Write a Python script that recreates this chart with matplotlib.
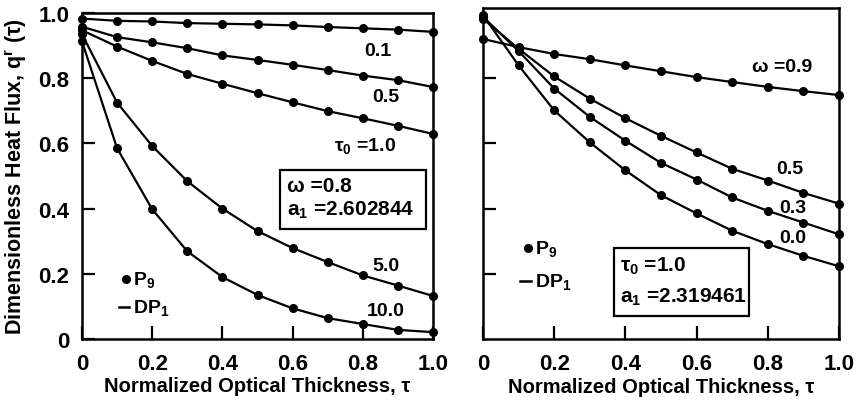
import matplotlib
matplotlib.use("Agg")
import matplotlib.pyplot as plt
from matplotlib.patches import Rectangle

FONT = 'Liberation Sans'
plt.rcParams['font.family'] = [FONT, 'DejaVu Sans']
plt.rcParams['font.weight'] = 'bold'
plt.rcParams['mathtext.fontset'] = 'custom'
plt.rcParams['mathtext.rm'] = FONT + ':bold'
plt.rcParams['mathtext.it'] = FONT + ':bold'
plt.rcParams['mathtext.bf'] = FONT + ':bold'
plt.rcParams['mathtext.default'] = 'regular'

tau = [0.0, 0.1, 0.2, 0.3, 0.4, 0.5, 0.6, 0.7, 0.8, 0.9, 1.0]

# Left panel: omega = 0.8, various tau0
left_labels = ["0.1", "0.5", "1.0", "5.0", "10.0"]
left_tau01 = [0.983, 0.976, 0.974, 0.969, 0.967, 0.965, 0.962, 0.957, 0.953, 0.949, 0.942]
left_tau05 = [0.958, 0.926, 0.910, 0.892, 0.870, 0.856, 0.841, 0.825, 0.808, 0.794, 0.773]
left_tau10 = [0.947, 0.897, 0.853, 0.813, 0.783, 0.754, 0.726, 0.699, 0.677, 0.654, 0.629]
left_tau50 = [0.935, 0.725, 0.592, 0.484, 0.400, 0.331, 0.279, 0.236, 0.195, 0.164, 0.132]
left_tau100 = [0.913, 0.585, 0.398, 0.269, 0.190, 0.135, 0.094, 0.064, 0.046, 0.028, 0.021]
left_series = [left_tau01, left_tau05, left_tau10, left_tau50, left_tau100]

# Right panel: tau0 = 1.0, various omega
right_labels = ["0.9", "0.5", "0.3", "0.0"]
right_w09 = [0.920, 0.895, 0.874, 0.858, 0.839, 0.821, 0.803, 0.788, 0.773, 0.760, 0.748]
right_w05 = [0.982, 0.890, 0.805, 0.737, 0.677, 0.623, 0.572, 0.522, 0.486, 0.448, 0.415]
right_w03 = [0.988, 0.883, 0.768, 0.681, 0.608, 0.540, 0.489, 0.434, 0.393, 0.357, 0.321]
right_w00 = [0.993, 0.839, 0.701, 0.603, 0.517, 0.441, 0.385, 0.332, 0.291, 0.255, 0.223]
right_series = [right_w09, right_w05, right_w03, right_w00]

xticks = [0, 0.2, 0.4, 0.6, 0.8, 1.0]
xticklabels = ["0", "0.2", "0.4", "0.6", "0.8", "1.0"]
yticks = [0, 0.2, 0.4, 0.6, 0.8, 1.0]
yticklabels = ["0", "0.2", "0.4", "0.6", "0.8", "1.0"]

W, H = 860, 410
fig = plt.figure(figsize=(W / 100, H / 100), dpi=100)

def px_axes(x0, x1, ytop, ybot):
    return fig.add_axes([x0 / W, (H - ybot) / H, (x1 - x0) / W, (ybot - ytop) / H])

axL = px_axes(82, 433, 14, 340)
axR = px_axes(483, 839, 9, 340)

FS = 16
for ax in (axL, axR):
    for sp in ax.spines.values():
        sp.set_linewidth(1.8)
    ax.set_xlim(0, 1.0)
    ax.tick_params(direction='in', length=9.5, width=1.6, pad=9, labelsize=FS)
    ax.set_xticks(xticks)
    ax.set_xticklabels(xticklabels, fontweight='bold')
    ax.tick_params(axis='x', pad=10)
    ax.set_xlabel("Normalized Optical Thickness, τ", fontsize=14.5, fontweight='bold')
    ax.xaxis.set_label_coords(0.5, -0.115)

axL.set_ylim(0, 1.0)
axR.set_ylim(0, 1.015)
axL.set_yticks(yticks)
axL.set_yticklabels(yticklabels, fontweight='bold')
axR.set_yticks(yticks[1:-1])
axR.set_yticklabels([])
axL.set_ylabel("Dimensionless Heat Flux, q$^{r}$ (τ)", fontsize=15.5, fontweight='bold')
axL.yaxis.set_label_coords(-0.15, 0.5)

for s in left_series:
    axL.plot(tau, s, color='black', lw=1.6, zorder=2, clip_on=False)
    axL.plot(tau, s, 'o', color='black', ms=5.5, zorder=3, clip_on=False)
for s in right_series:
    axR.plot(tau, s, color='black', lw=1.6, zorder=2, clip_on=False)
    axR.plot(tau, s, 'o', color='black', ms=5.5, zorder=3, clip_on=False)

# Curve labels, left
lab_fs = 14
axL.text(0.842, 0.886, left_labels[0], ha='center', va='center', fontsize=lab_fs)
axL.text(0.865, 0.745, left_labels[1], ha='center', va='center', fontsize=lab_fs)
axL.text(0.807, 0.594, "τ$_0$ =" + left_labels[2], ha='center', va='center', fontsize=lab_fs)
axL.text(0.865, 0.225, left_labels[3], ha='center', va='center', fontsize=lab_fs)
axL.text(0.865, 0.086, left_labels[4], ha='center', va='center', fontsize=lab_fs)

# Curve labels, right
axR.text(0.84, 0.836, "ω =" + right_labels[0], ha='center', va='center', fontsize=lab_fs)
axR.text(0.862, 0.523, right_labels[1], ha='center', va='center', fontsize=lab_fs)
axR.text(0.871, 0.404, right_labels[2], ha='center', va='center', fontsize=lab_fs)
axR.text(0.871, 0.310, right_labels[3], ha='center', va='center', fontsize=lab_fs)

# Parameter boxes
box_fs = 15
axL.add_patch(Rectangle((0.563, 0.338), 0.417, 0.179, fill=False, lw=1.6,
                        edgecolor='black', transform=axL.transAxes))
axL.text(0.585, 0.470, "ω =0.8", transform=axL.transAxes, ha='left', va='center', fontsize=box_fs)
axL.text(0.585, 0.397, "a$_1$ =2.602844", transform=axL.transAxes, ha='left', va='center', fontsize=box_fs)

axR.add_patch(Rectangle((0.368, 0.070), 0.379, 0.204, fill=False, lw=1.6,
                        edgecolor='black', transform=axR.transAxes))
axR.text(0.385, 0.222, "τ$_0$ =1.0", transform=axR.transAxes, ha='left', va='center', fontsize=box_fs)
axR.text(0.385, 0.130, "a$_1$ =2.319461", transform=axR.transAxes, ha='left', va='center', fontsize=box_fs)

# Method legends
for ax, ydot, yline in ((axL, 0.185, 0.098), (axR, 0.274, 0.176)):
    ax.plot([0.126], [ydot], 'o', color='black', ms=5.5, transform=ax.transAxes)
    ax.text(0.145, ydot, "P$_9$", transform=ax.transAxes, ha='left', va='center', fontsize=lab_fs)
    ax.plot([0.105, 0.135], [yline, yline], color='black', lw=1.8, transform=ax.transAxes)
    ax.text(0.145, yline, "DP$_1$", transform=ax.transAxes, ha='left', va='center', fontsize=lab_fs)

fig.savefig("out.png", dpi=100)
